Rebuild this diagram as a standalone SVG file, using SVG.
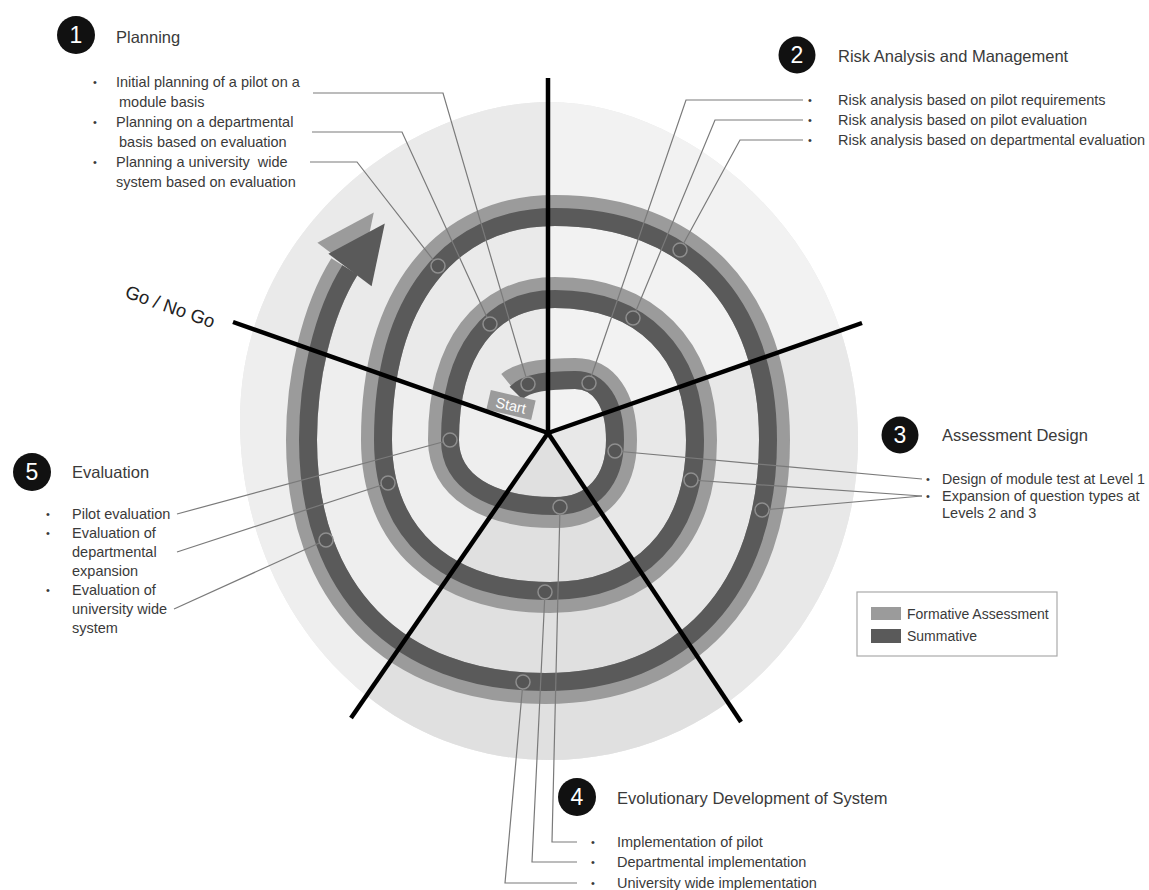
<svg xmlns="http://www.w3.org/2000/svg" width="1149" height="890" viewBox="0 0 1149 890">
<defs>
<style>
.t{font-family:"Liberation Sans",Arial,sans-serif;fill:#3a3a3a}
.h{font-size:16.5px}
.b{font-size:14.5px}
.bu{font-size:11px}
.num{font-family:"Liberation Sans",Arial,sans-serif;font-size:23px;fill:#fff;text-anchor:middle}
.badge{fill:#111}
.lead{fill:none;stroke:#7a7a7a;stroke-width:1.2}
.dot{fill:#555;stroke:#8e8e8e;stroke-width:1.5}
.axis{stroke:#000;stroke-width:4.5}
.light{fill:none;stroke:#9b9b9b;stroke-width:31}
.dark{fill:none;stroke:#5a5a5a;stroke-width:18}
</style>
<clipPath id="discClip"><path d="M549 102 C688 102 858 237 858 440 C858 618 722 760 549 760 C376 760 240 609 240 420 C240 229 410 102 549 102 Z"/></clipPath>
</defs>
<rect width="1149" height="890" fill="#fff"/>
<g id="disc" clip-path="url(#discClip)">
<rect x="200" y="80" width="700" height="700" fill="#e9e9e9"/>
<polygon points="548,433 -82,211 548,-277" fill="#eaeaea"/>
<polygon points="548,433 548,-277 1176,213" fill="#f2f2f2"/>
<polygon points="548,433 1176,213 934,1011" fill="#e8e8e8"/>
<polygon points="548,433 934,1011 154,1003" fill="#e0e0e0"/>
<polygon points="548,433 154,1003 -82,211" fill="#eeeeee"/>
</g>
<g id="spiral">
<path class="light" d="M511 386 C524 375.5 550 373.5 575 373.5 C603.8 373.5 621.5 398.8 621.5 440 C621.5 485 596.2 512.5 555 512.5 C485.9 512.5 443.5 485 443.5 440 C443.5 348.55 485.9 292.5 555 292.5 C645.8 292.5 701.5 348.55 701.5 440 C701.5 537.65 643.9 597.5 550 597.5 C442.4 597.5 376.5 537.65 376.5 440 C376.5 297.7 444.3 210.5 555 210.5 C691.1 210.5 774.5 297.7 774.5 440 C774.5 594.1 687.3 688.5 545 688.5 C394 688.5 301.5 594.1 301.5 440 C301.5 379 316.5 311.5 344.5 266.5"/>
<polygon points="317.4,242.8 373.8,212.6 360.6,275.2" fill="#9b9b9b"/>
<path class="dark" d="M516 393 C527 382 550 380 575 380 C599.8 380 615 402.8 615 440 C615 480.9 592.2 506 555 506 C489.9 506 450 480.9 450 440 C450 352.6 489.9 299 555 299 C641.8 299 695 352.6 695 440 C695 533.6 639.9 591 550 591 C446.5 591 383 533.6 383 440 C383 301.7 448.4 217 555 217 C687.1 217 768 301.7 768 440 C768 590 683.3 682 545 682 C398.1 682 308 590 308 440 C308 380 322 315 350 270"/>
<polygon points="328.4,253.8 384.8,223.6 371.6,286.2" fill="#5a5a5a"/>
</g>
<g id="start">
<g transform="translate(511,405) rotate(13)">
<rect x="-23" y="-10" width="46" height="20" fill="#9b9b9b"/>
<text x="0" y="5.5" text-anchor="middle" font-family="Liberation Sans, Arial, sans-serif" font-size="14.5" fill="#fff">Start</text>
</g>
</g>
<g id="connectors">
<path class="lead" d="M313 93 H443 L528 384"/>
<path class="lead" d="M312 132 H402 L490 324"/>
<path class="lead" d="M310 162 H357 L438 266"/>
<path class="lead" d="M803 100 H686 L589 383"/>
<path class="lead" d="M803 120 H715 L633 318"/>
<path class="lead" d="M803 140 H740 L680 250"/>
<path class="lead" d="M615 451 L922 479"/>
<path class="lead" d="M691 480 L922 496"/>
<path class="lead" d="M762 510 L922 496"/>
<path class="lead" d="M177 514 L450 440"/>
<path class="lead" d="M177 552 L388 483"/>
<path class="lead" d="M174 609 L326 540"/>
<path class="lead" d="M560 507 L552 842 H577"/>
<path class="lead" d="M545 592 L532 862 H577"/>
<path class="lead" d="M523 682 L505 883 H577"/>
</g>
<g id="dots">
<circle class="dot" cx="528" cy="384" r="7"/>
<circle class="dot" cx="490" cy="324" r="7"/>
<circle class="dot" cx="438" cy="266" r="7"/>
<circle class="dot" cx="589" cy="383" r="7"/>
<circle class="dot" cx="633" cy="318" r="7"/>
<circle class="dot" cx="680" cy="250" r="7"/>
<circle class="dot" cx="615" cy="451" r="7"/>
<circle class="dot" cx="691" cy="480" r="7"/>
<circle class="dot" cx="762" cy="510" r="7"/>
<circle class="dot" cx="560" cy="507" r="7"/>
<circle class="dot" cx="545" cy="592" r="7"/>
<circle class="dot" cx="523" cy="682" r="7"/>
<circle class="dot" cx="450" cy="440" r="7"/>
<circle class="dot" cx="388" cy="483" r="7"/>
<circle class="dot" cx="326" cy="540" r="7"/>
</g>
<g id="axes">
<line class="axis" x1="548" y1="433" x2="548" y2="78"/>
<line class="axis" x1="548" y1="433" x2="862" y2="323"/>
<line class="axis" x1="548" y1="433" x2="741" y2="722"/>
<line class="axis" x1="548" y1="433" x2="351" y2="718"/>
<line class="axis" x1="548" y1="433" x2="233" y2="322"/>
</g>
<g id="gonogo">
<text class="t" x="124" y="297" font-size="18.5" transform="rotate(19.5 124 297)" style="fill:#222">Go / No Go</text>
</g>
<g id="planning">
<circle class="badge" cx="76" cy="35" r="19"/>
<text class="num" x="76" y="43">1</text>
<text class="t h" x="116" y="43">Planning</text>
<text class="t bu" x="93" y="86">•</text>
<text class="t bu" x="93" y="126">•</text>
<text class="t bu" x="93" y="166">•</text>
<text class="t b" x="116" y="87">Initial planning of a pilot on a</text>
<text class="t b" x="119" y="107">module basis</text>
<text class="t b" x="116" y="127">Planning on a departmental</text>
<text class="t b" x="119" y="147">basis based on evaluation</text>
<text class="t b" x="116" y="167" style="white-space:pre">Planning a university  wide</text>
<text class="t b" x="116" y="187">system based on evaluation</text>
</g>
<g id="risk">
<circle class="badge" cx="797" cy="55" r="18.5"/>
<text class="num" x="797" y="63">2</text>
<text class="t h" x="838" y="62">Risk Analysis and Management</text>
<text class="t bu" x="808" y="104">•</text>
<text class="t bu" x="808" y="124">•</text>
<text class="t bu" x="808" y="144">•</text>
<text class="t b" x="838" y="105">Risk analysis based on pilot requirements</text>
<text class="t b" x="838" y="125">Risk analysis based on pilot evaluation</text>
<text class="t b" x="838" y="145">Risk analysis based on departmental evaluation</text>
</g>
<g id="assessment">
<circle class="badge" cx="900" cy="435" r="18.5"/>
<text class="num" x="900" y="443">3</text>
<text class="t h" x="942" y="441">Assessment Design</text>
<text class="t bu" x="926" y="483">•</text>
<text class="t bu" x="926" y="500">•</text>
<text class="t b" x="942" y="484" textLength="203" lengthAdjust="spacingAndGlyphs">Design of module test at Level 1</text>
<text class="t b" x="942" y="501">Expansion of question types at</text>
<text class="t b" x="942" y="518">Levels 2 and 3</text>
</g>
<g id="evolutionary">
<circle class="badge" cx="577" cy="797" r="19"/>
<text class="num" x="577" y="805">4</text>
<text class="t h" x="617" y="804">Evolutionary Development of System</text>
<text class="t bu" x="591" y="846">•</text>
<text class="t bu" x="591" y="866">•</text>
<text class="t bu" x="591" y="887">•</text>
<text class="t b" x="617" y="847">Implementation of pilot</text>
<text class="t b" x="617" y="867">Departmental implementation</text>
<text class="t b" x="617" y="888">University wide implementation</text>
</g>
<g id="evaluation">
<circle class="badge" cx="32" cy="472" r="19"/>
<text class="num" x="32" y="480">5</text>
<text class="t h" x="72" y="478">Evaluation</text>
<text class="t bu" x="46" y="518">•</text>
<text class="t bu" x="46" y="537">•</text>
<text class="t bu" x="46" y="594">•</text>
<text class="t b" x="72" y="519">Pilot evaluation</text>
<text class="t b" x="72" y="538">Evaluation of</text>
<text class="t b" x="72" y="557">departmental</text>
<text class="t b" x="72" y="576">expansion</text>
<text class="t b" x="72" y="595">Evaluation of</text>
<text class="t b" x="72" y="614">university wide</text>
<text class="t b" x="72" y="633">system</text>
</g>
<g id="legend">
<rect x="857" y="592" width="200" height="64" fill="#fff" stroke="#aaa" stroke-width="1.2"/>
<rect x="871" y="607" width="30" height="13" fill="#9b9b9b"/>
<rect x="871" y="629" width="30" height="14" fill="#5a5a5a"/>
<text class="t" x="907" y="619" font-size="14">Formative Assessment</text>
<text class="t" x="907" y="641" font-size="14">Summative</text>
</g>
</svg>
